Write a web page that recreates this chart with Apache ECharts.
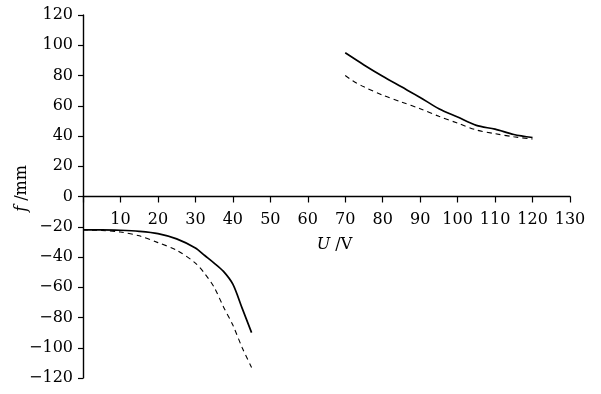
<!DOCTYPE html>
<html><head><meta charset="utf-8">
<script src="https://cdn.jsdelivr.net/npm/echarts@6/dist/echarts.min.js"></script>
<style>html,body{margin:0;padding:0;background:#fff}#c{width:601px;height:394px}</style>
</head><body><div id="c"></div>
<script>
// Data
var lowerX = [0, 5, 10, 15, 20, 25, 30, 32.5, 35, 37.5, 40, 42.5, 45];
var lowerSolid = [-22, -22, -22.3, -23, -24.5, -28, -34, -39, -44, -49.5, -58, -74, -90];
var lowerDashed = [-22, -22.5, -23.5, -26, -30.5, -35.5, -44, -51, -60, -73, -85, -100, -113];
var upperSolidX = [70, 75, 80, 85, 90, 95, 100, 105, 110, 115, 120];
var upperSolid = [95, 87, 79.5, 72.5, 65.5, 58, 52.5, 47, 44.5, 41, 39];
var upperDashedX = [70, 72, 75, 80, 85, 90, 95, 100, 105, 110, 115, 120];
var upperDashed = [80, 76.5, 72.5, 67, 62.5, 58, 53, 48.5, 44, 41.5, 39.5, 38];
var xTicks = [10, 20, 30, 40, 50, 60, 70, 80, 90, 100, 110, 120, 130];
var yTicks = [-120, -100, -80, -60, -40, -20, 0, 20, 40, 60, 80, 100, 120];

function pairs(xs, ys) { return xs.map(function (x, i) { return [x, ys[i]]; }); }

var font = '"DejaVu Serif", "Liberation Serif", serif';
var gridTop = 15, gridBottom = 16, H = 394;
var yMin = -120, yMax = 120;
// place the x axis at y = 0 (offset upward from the grid bottom)
var plotH = H - gridTop - gridBottom;
var zeroOffset = -plotH * (0 - yMin) / (yMax - yMin);

var chart = echarts.init(document.getElementById('c'), null, {renderer: 'canvas'});
var solidStyle = {color: '#000', width: 1.7, type: 'solid'};
var dashStyle = {color: '#000', width: 1.1, type: [5, 4]};
chart.setOption({
  backgroundColor: '#fff',
  animation: false,
  grid: {left: 83, right: 31, top: gridTop, bottom: gridBottom, containLabel: false, outerBoundsMode: 'none'},
  xAxis: {
    type: 'value', min: 0, max: 130, interval: 10, offset: zeroOffset,
    axisLine: {onZero: false, lineStyle: {color: '#000', width: 1.4}},
    axisTick: {show: true, length: 6, lineStyle: {color: '#000', width: 1.2}},
    splitLine: {show: false},
    axisLabel: {
      margin: 15, color: '#000', fontFamily: font, fontSize: 16,
      formatter: function (v) { return xTicks.indexOf(v) >= 0 ? String(v) : ''; }
    },
    name: '{i|U} /V', nameLocation: 'middle', nameGap: 40, nameMoveOverlap: false,
    nameTextStyle: {fontFamily: font, fontSize: 16, color: '#000', padding: [0, 0, 0, 16],
      rich: {i: {fontFamily: font, fontStyle: 'italic', fontSize: 16, color: '#000'}}}
  },
  yAxis: {
    type: 'value', min: yMin, max: yMax, interval: 20,
    axisLine: {lineStyle: {color: '#000', width: 1.4}},
    axisTick: {show: true, length: 5, lineStyle: {color: '#000', width: 1.2}},
    splitLine: {show: false},
    axisLabel: {
      margin: 10, color: '#000', fontFamily: font, fontSize: 16,
      formatter: function (v) { return yTicks.indexOf(v) >= 0 ? String(v).replace('-', '\u2212') : ''; }
    },
    name: '{i|f} /mm', nameLocation: 'middle', nameGap: 53, nameRotate: 90, nameMoveOverlap: false,
    nameTextStyle: {fontFamily: font, fontSize: 16, color: '#000', padding: [0, 0, 0, 16],
      rich: {i: {fontFamily: font, fontStyle: 'italic', fontSize: 16, color: '#000'}}}
  },
  series: [
    {type: 'line', data: pairs(lowerX, lowerSolid), showSymbol: false, smooth: 0.3, lineStyle: solidStyle},
    {type: 'line', data: pairs(lowerX, lowerDashed), showSymbol: false, smooth: 0.3, lineStyle: dashStyle},
    {type: 'line', data: pairs(upperSolidX, upperSolid), showSymbol: false, smooth: 0.3, lineStyle: solidStyle},
    {type: 'line', data: pairs(upperDashedX, upperDashed), showSymbol: false, smooth: 0.3, lineStyle: dashStyle}
  ]
});
</script></body></html>
